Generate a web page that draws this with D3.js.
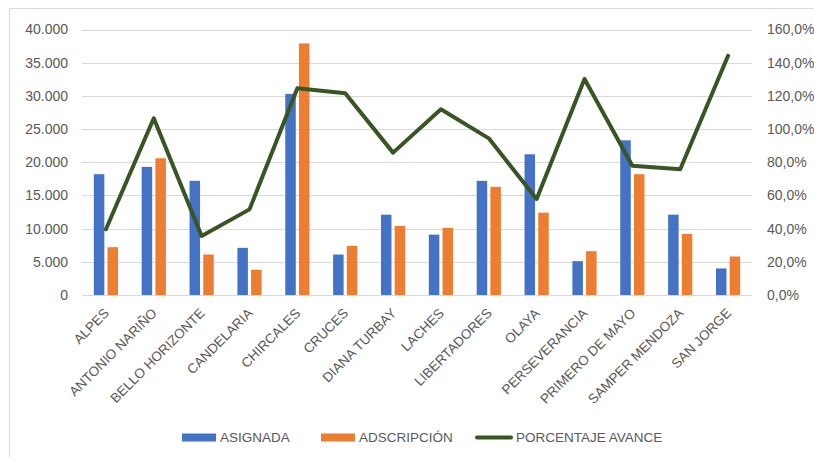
<!DOCTYPE html>
<html>
<head>
<meta charset="utf-8">
<script src="https://cdn.jsdelivr.net/npm/d3@7/dist/d3.min.js"></script>
<style>
  html, body { margin: 0; padding: 0; background: #fff; }
  svg { display: block; font-family: "Liberation Sans", Arial, sans-serif; }
</style>
</head>
<body>
<svg id="chart" width="814" height="457"></svg>
<script>
// Localidades
const categories = ["ALPES", "ANTONIO NARIÑO", "BELLO HORIZONTE", "CANDELARIA", "CHIRCALES",
  "CRUCES", "DIANA TURBAY", "LACHES", "LIBERTADORES", "OLAYA", "PERSEVERANCIA",
  "PRIMERO DE MAYO", "SAMPER MENDOZA", "SAN JORGE"];
const asignada = [18200, 19300, 17200, 7100, 30300, 6100, 12100, 9100, 17200, 21200, 5100, 23300, 12100, 4000];
const adscripcion = [7200, 20600, 6100, 3800, 37900, 7400, 10400, 10100, 16300, 12400, 6600, 18200, 9200, 5800];
const porcentajeAvance = [39.6, 106.5, 35.6, 51.6, 124.6, 121.6, 85.8, 111.9, 94.4, 57.9, 130.2, 77.9, 75.8, 144.2];
const leftTicks = [0, 5000, 10000, 15000, 20000, 25000, 30000, 35000, 40000];
const rightTicks = [0, 20, 40, 60, 80, 100, 120, 140, 160];
const seriesNames = ["ASIGNADA", "ADSCRIPCIÓN", "PORCENTAJE AVANCE"];

const colors = { asignada: "#4472C4", adscripcion: "#ED7D31", avance: "#375623", grid: "#d9d9d9", text: "#595959" };

const svg = d3.select("#chart");
const plot = { left: 82, right: 752, top: 29.5, bottom: 295 };

// outer frame of the chart area
svg.append("rect").attr("x", 9.5).attr("y", 8.5).attr("width", 830).attr("height", 470)
  .attr("fill", "none").attr("stroke", colors.grid).attr("stroke-width", 1);

const x = d3.scaleBand().domain(categories).range([plot.left, plot.right]).padding(0);
const yL = d3.scaleLinear().domain([0, 40000]).range([plot.bottom, plot.top]);
const yR = d3.scaleLinear().domain([0, 160]).range([plot.bottom, plot.top]);

const fmtThousands = d3.formatLocale({ decimal: ",", thousands: ".", grouping: [3], currency: ["", ""] });
const fmtL = fmtThousands.format(",.0f");
const fmtR = v => fmtThousands.format(".1f")(v) + "%";

// gridlines
svg.append("g").selectAll("line").data(leftTicks).join("line")
  .attr("x1", plot.left).attr("x2", plot.right)
  .attr("y1", d => Math.round(yL(d)) + 0.5).attr("y2", d => Math.round(yL(d)) + 0.5)
  .attr("stroke", colors.grid).attr("stroke-width", 1.2);

// left axis
const axL = svg.append("g").attr("transform", `translate(${plot.left},0)`)
  .call(d3.axisLeft(yL).tickValues(leftTicks).tickFormat(fmtL).tickSize(0).tickPadding(14));
axL.select(".domain").remove();
axL.selectAll("text").attr("fill", colors.text).style("font-size", "14px")
  .style("font-family", '"Liberation Sans", Arial, sans-serif');

// right axis
const axR = svg.append("g").attr("transform", `translate(${plot.right},0)`)
  .call(d3.axisRight(yR).tickValues(rightTicks).tickFormat(fmtR).tickSize(0).tickPadding(15));
axR.select(".domain").remove();
axR.selectAll("text").attr("fill", colors.text).style("font-size", "14px")
  .style("font-family", '"Liberation Sans", Arial, sans-serif');

// bars
const barW = 10.5, gap = 1.6;
const cx = c => x(c) + x.bandwidth() / 2;
svg.append("g").selectAll("rect").data(categories).join("rect")
  .attr("x", c => cx(c) - gap - barW)
  .attr("y", (c, i) => yL(asignada[i]))
  .attr("width", barW)
  .attr("height", (c, i) => yL(0) - yL(asignada[i]))
  .attr("fill", colors.asignada);
svg.append("g").selectAll("rect").data(categories).join("rect")
  .attr("x", c => cx(c) + gap)
  .attr("y", (c, i) => yL(adscripcion[i]))
  .attr("width", barW)
  .attr("height", (c, i) => yL(0) - yL(adscripcion[i]))
  .attr("fill", colors.adscripcion);

// progress line
const line = d3.line().x((d, i) => cx(categories[i])).y(d => yR(d));
svg.append("path").datum(porcentajeAvance)
  .attr("d", line).attr("fill", "none")
  .attr("stroke", colors.avance).attr("stroke-width", 4)
  .attr("stroke-linejoin", "round").attr("stroke-linecap", "round");

// category labels
svg.append("g").selectAll("text").data(categories).join("text")
  .attr("transform", c => `translate(${cx(c) + 4},${314}) rotate(-45)`)
  .attr("text-anchor", "end")
  .attr("fill", colors.text)
  .style("font-size", "13.5px")
  .text(c => c);

// legend
const legend = svg.append("g");
const items = [
  { name: seriesNames[0], type: "bar", color: colors.asignada, x: 182, tx: 220 },
  { name: seriesNames[1], type: "bar", color: colors.adscripcion, x: 321, tx: 359 },
  { name: seriesNames[2], type: "line", color: colors.avance, x: 475, tx: 516 }
];
const ly = 437.5;
items.forEach(it => {
  if (it.type === "bar") {
    legend.append("rect").attr("x", it.x).attr("y", ly - 4).attr("width", 34).attr("height", 8).attr("fill", it.color);
  } else {
    legend.append("line").attr("x1", it.x + 2).attr("x2", it.x + 36).attr("y1", ly).attr("y2", ly)
      .attr("stroke", it.color).attr("stroke-width", 4).attr("stroke-linecap", "round");
  }
  legend.append("text").attr("x", it.tx).attr("y", ly).attr("dy", "0.36em")
    .attr("fill", colors.text).style("font-size", "13.5px").text(it.name);
});
</script>
</body>
</html>
